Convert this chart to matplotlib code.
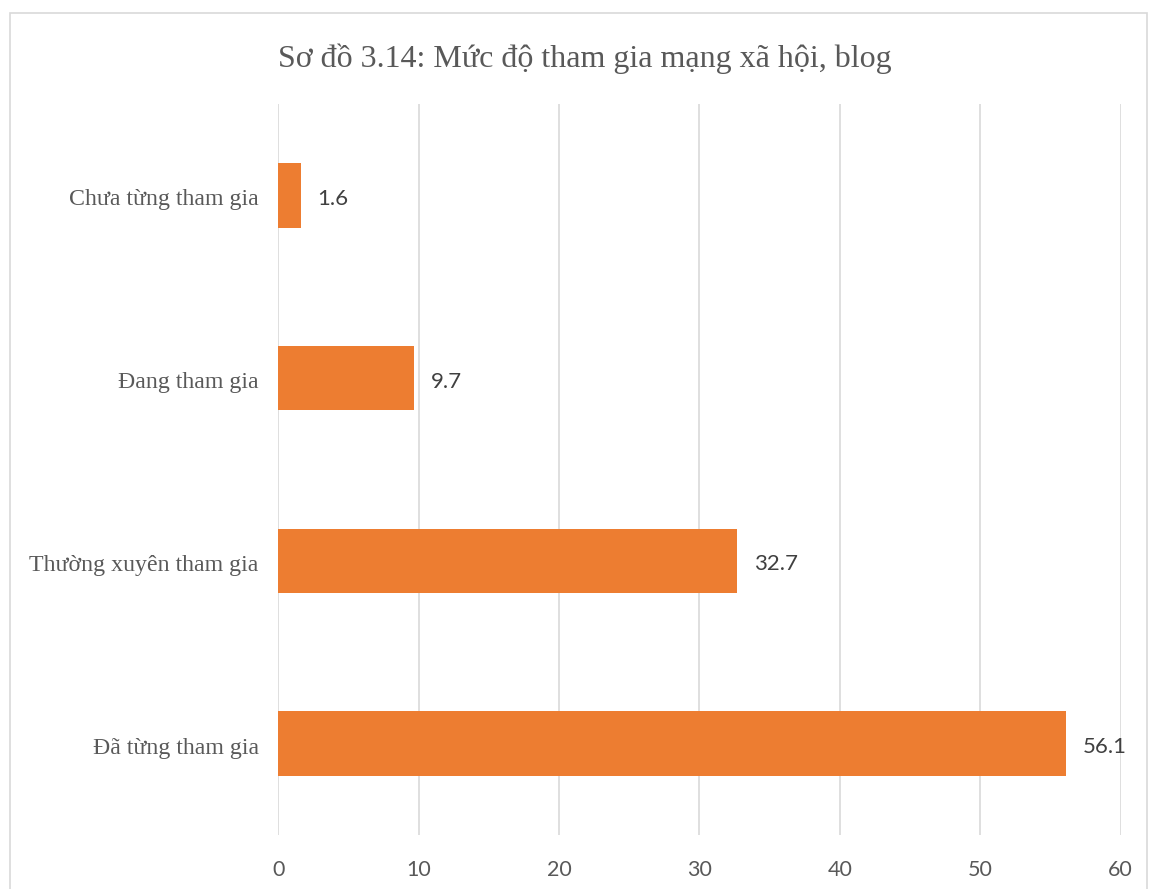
import matplotlib.pyplot as plt
from matplotlib.patches import Rectangle
from matplotlib.transforms import ScaledTranslation

categories = ['Đã từng tham gia', 'Thường xuyên tham gia', 'Đang tham gia', 'Chưa từng tham gia']
values = [56.1, 32.7, 9.7, 1.6]
xticks = [0, 10, 20, 30, 40, 50, 60]
title = 'Sơ đồ 3.14: Mức độ tham gia mạng xã hội, blog'

text_color = '#595959'
grid_color = '#D9D9D9'
bar_color = '#ED7D31'

fig = plt.figure(figsize=(11.5, 8.89), dpi=100)
ax = fig.add_axes([0.242, 0.0607, 0.7325, 0.8223])

# figure border (bottom edge is off the picture)
fig.patches.append(Rectangle((10 / 1150, -0.05), 1137 / 1150, 1.05 - 13 / 889,
                             transform=fig.transFigure, fill=False,
                             edgecolor=grid_color, linewidth=1.2))

ypos = range(len(categories))
bars = ax.barh(ypos, values, height=0.354, color=bar_color, zorder=3)

# value labels: baseline ~9px under bar centre, ~16px right of bar end
for b, v in zip(bars, values):
    ax.annotate(f'{v:.1f}', (b.get_width(), b.get_y() + b.get_height() / 2),
                xytext=(12, -6.8), textcoords='offset points',
                va='baseline', ha='left', fontsize=16, color='#404040', family='Lato')

ax.set_xlim(0, 60)
ax.set_ylim(-0.5, len(categories) - 0.5)
ax.set_xticks(xticks)
ax.set_xticklabels([str(t) for t in xticks], fontsize=15.5, color=text_color, family='Lato')
ax.set_yticks(list(ypos))
ax.set_yticklabels(categories, fontsize=17.2, color=text_color, family='Liberation Serif')
ax.tick_params(axis='x', length=0, pad=18)
ax.tick_params(axis='y', length=0, pad=14)
shift = ScaledTranslation(0, -2 / 100, fig.dpi_scale_trans)
for lab in ax.get_yticklabels():
    lab.set_transform(lab.get_transform() + shift)
ax.grid(axis='x', color=grid_color, linewidth=1.2, zorder=0)
for s in ax.spines.values():
    s.set_visible(False)

fig.text(585 / 1150, 1 - 59 / 889, title, ha='center', va='center',
         fontsize=23, color=text_color, family='Liberation Serif')

fig.savefig('out.png', dpi=100)
